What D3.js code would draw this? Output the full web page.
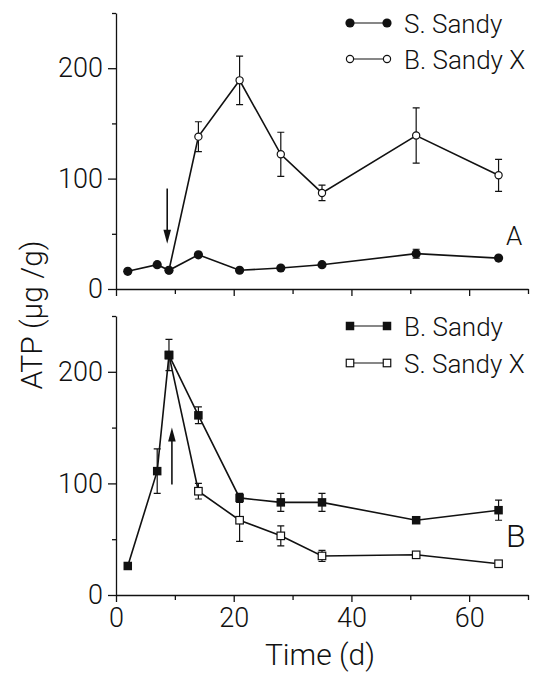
<!DOCTYPE html>
<html>
<head>
<meta charset="utf-8">
<script src="https://cdn.jsdelivr.net/npm/d3@7"></script>
<style>
body { margin: 0; background: #fff; }
text { font-family: Roboto, "Liberation Sans", sans-serif; font-weight: 300; fill: #111; }
</style>
</head>
<body>
<script>
// panel A
var daysA = [2, 7, 9, 14, 21, 28, 35, 51, 65];
var sSandy = [16, 22, 17, 31, 17, 19, 22, 32, 28];
var sSandyErr = [0, 0, 0, 0, 0, 0, 0, 4, 0];
var daysAX = [9, 14, 21, 28, 35, 51, 65];
var bSandyX = [17, 138, 189, 122, 87, 139, 103];
var bSandyXErr = [0, 13.5, 22, 20, 7, 25, 14.5];

// panel B
var daysB = [2, 7, 9, 14, 21, 28, 35, 51, 65];
var bSandy = [26, 111, 215, 161, 87, 83, 83, 67, 76];
var bSandyErr = [0, 20, 14, 7.5, 4, 8, 8, 0, 9];
var daysBX = [9, 14, 21, 28, 35, 51, 65];
var sSandyX = [215, 93, 67, 53, 35, 36, 28];
var sSandyXErr = [0, 7, 19, 9, 5, 0, 0];

var majorX = [0, 20, 40, 60];
var minorX = [10, 30, 50, 70];
var majorY = [0, 100, 200];
var minorY = [50, 150, 250];

// arrows: [day, from, to]
var arrowA = [8.7, 91, 41];
var arrowB = [9.5, 99, 150];

var svg = d3.select("body").append("svg")
    .attr("width", 534)
    .attr("height", 680);

var xScale = d3.scaleLinear().domain([0, 70]).range([116, 528]);
var yA = d3.scaleLinear().domain([0, 250]).range([289, 13]);
var yB = d3.scaleLinear().domain([0, 250]).range([595, 316]);

function styleAxis(g) {
    g.attr("font-family", null).attr("font-size", null);
    g.selectAll("path, line").attr("stroke", "#111").attr("stroke-width", 1.3);
    g.selectAll("text").attr("fill", "#111").style("font-size", "27px");
}

function drawAxes(y, labelsX) {
    var y0 = y.range()[0];
    svg.append("g").attr("transform", `translate(0, ${y0})`)
        .call(d3.axisBottom(xScale).tickValues(minorX).tickSize(5).tickSizeOuter(0).tickFormat(""))
        .call(styleAxis);
    svg.append("g").attr("transform", `translate(0, ${y0})`)
        .call(d3.axisBottom(xScale).tickValues(majorX).tickSize(7).tickSizeOuter(0).tickPadding(6)
            .tickFormat(labelsX ? d3.format("d") : ""))
        .call(styleAxis)
        .call(g => g.select(".domain").remove());

    svg.append("g").attr("transform", `translate(${xScale(0)}, 0)`)
        .call(d3.axisLeft(y).tickValues(minorY).tickSize(4).tickSizeOuter(0).tickFormat(""))
        .call(styleAxis);
    svg.append("g").attr("transform", `translate(${xScale(0)}, 0)`)
        .call(d3.axisLeft(y).tickValues(majorY).tickSize(8).tickSizeOuter(0).tickPadding(5))
        .call(styleAxis)
        .call(g => g.select(".domain").remove());
}

function pts(days, vals, errs) {
    return days.map(function(d, i) { return {x: d, v: vals[i], e: errs[i]}; });
}

function drawSeries(y, data, shape, filled) {
    var g = svg.append("g");
    var line = d3.line().x(d => xScale(d.x)).y(d => y(d.v));
    g.append("path").datum(data)
        .attr("d", line)
        .attr("fill", "none")
        .attr("stroke", "#111")
        .attr("stroke-width", 1.6);

    var eb = data.filter(d => d.e > 0);
    g.selectAll(".eb").data(eb).enter().append("path")
        .attr("class", "eb")
        .attr("d", function(d) {
            var x = xScale(d.x), t = y(d.v + d.e), b = y(d.v - d.e);
            return `M${x},${t}V${b}M${x - 3.5},${t}H${x + 3.5}M${x - 3.5},${b}H${x + 3.5}`;
        })
        .attr("fill", "none")
        .attr("stroke", "#111")
        .attr("stroke-width", 1.2);

    drawMarkers(g, data.map(d => [xScale(d.x), y(d.v)]), shape, filled);
}

function drawMarkers(g, xy, shape, filled) {
    if (shape == "circle") {
        g.selectAll(".mk").data(xy).enter().append("circle")
            .attr("class", "mk")
            .attr("cx", d => d[0]).attr("cy", d => d[1])
            .attr("r", filled ? 4.6 : 3.6)
            .attr("fill", filled ? "#111" : "#fff")
            .attr("stroke", "#111")
            .attr("stroke-width", filled ? 0 : 1.2);
    } else {
        var s = filled ? 8.5 : 7.5;
        g.selectAll(".mk").data(xy).enter().append("rect")
            .attr("class", "mk")
            .attr("x", d => d[0] - s / 2).attr("y", d => d[1] - s / 2)
            .attr("width", s).attr("height", s)
            .attr("fill", filled ? "#111" : "#fff")
            .attr("stroke", "#111")
            .attr("stroke-width", filled ? 0 : 1.2);
    }
}

function drawArrow(y, a) {
    var x = xScale(a[0]), y1 = y(a[1]), y2 = y(a[2]);
    var dir = y2 > y1 ? 1 : -1;
    svg.append("line")
        .attr("x1", x).attr("x2", x)
        .attr("y1", y1).attr("y2", y2 - dir * 10)
        .attr("stroke", "#111").attr("stroke-width", 1.6);
    svg.append("path")
        .attr("d", `M${x - 3.8},${y2 - dir * 14}L${x + 3.8},${y2 - dir * 14}L${x},${y2}Z`)
        .attr("fill", "#111");
}

function drawLegend(items, shape) {
    items.forEach(function(it) {
        var g = svg.append("g");
        g.append("line")
            .attr("x1", 350).attr("x2", 387)
            .attr("y1", it.y).attr("y2", it.y)
            .attr("stroke", "#111").attr("stroke-width", 1.2);
        drawMarkers(g, [[350, it.y], [387, it.y]], shape, it.filled);
        g.append("text")
            .attr("x", 404).attr("y", it.y + 10)
            .style("font-size", "26px")
            .text(it.label);
    });
}

drawAxes(yA, false);
drawAxes(yB, true);

drawSeries(yA, pts(daysAX, bSandyX, bSandyXErr), "circle", false);
drawSeries(yA, pts(daysA, sSandy, sSandyErr), "circle", true);
drawSeries(yB, pts(daysBX, sSandyX, sSandyXErr), "square", false);
drawSeries(yB, pts(daysB, bSandy, bSandyErr), "square", true);

drawArrow(yA, arrowA);
drawArrow(yB, arrowB);

drawLegend([{y: 23, label: "S. Sandy", filled: true}, {y: 59, label: "B. Sandy X", filled: false}], "circle");
drawLegend([{y: 326, label: "B. Sandy", filled: true}, {y: 363, label: "S. Sandy X", filled: false}], "square");

svg.append("text").attr("x", 506).attr("y", 245).style("font-size", "26px").text("A");
svg.append("text").attr("x", 506).attr("y", 547).style("font-size", "32px").text("B");

svg.append("text")
    .attr("transform", "translate(42, 315) rotate(-90)")
    .attr("text-anchor", "middle")
    .style("font-size", "30px")
    .text("ATP (µg /g)");

svg.append("text")
    .attr("x", 320).attr("y", 665)
    .attr("text-anchor", "middle")
    .style("font-size", "30px")
    .text("Time (d)");
</script>
</body>
</html>
